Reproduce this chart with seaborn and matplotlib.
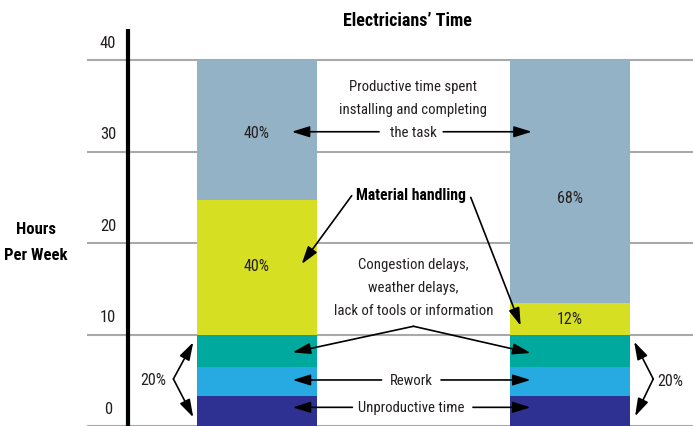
import matplotlib
matplotlib.use("Agg")
import matplotlib.pyplot as plt
import seaborn as sns
import pandas as pd
import numpy as np

# ---- data (hours per week) ----
categories = ["Current", "Improved"]
segments = ["Unproductive time", "Rework", "Congestion delays", "Material handling", "Productive time"]
unproductive = [3.3, 3.3]
rework = [3.1, 3.1]
congestion = [3.6, 3.6]
material = [14.7, 3.4]
productive = [15.3, 26.6]
seg_colors = ["#2e3192", "#27aae1", "#00a99d", "#d7df23", "#94b2c5"]
bar_labels_productive = ["40%", "68%"]
bar_labels_material = ["40%", "12%"]
yticks = [0, 10, 20, 30, 40]
title = "Electricians\u2019 Time"

sns.set_theme(style="white")
plt.rcParams["font.family"] = ["Roboto Condensed", "DejaVu Sans"]
plt.rcParams["font.stretch"] = "condensed"
TXT = "#231f20"

fig = plt.figure(figsize=(6.93, 4.27), dpi=100)
ax = fig.add_axes([87 / 693, 0, 606 / 693, 397 / 427])

values = np.array([unproductive, rework, congestion, material, productive])
cum = values.cumsum(axis=0)

# draw stacked bars from the top layer down
for i in range(len(segments) - 1, -1, -1):
    df = pd.DataFrame({"cat": categories, "hours": cum[i]})
    sns.barplot(data=df, x="cat", y="hours", order=categories, color=seg_colors[i],
                saturation=1, width=0.383, errorbar=None, linewidth=0, ax=ax, zorder=2)

ax.set_xlim(-0.543, 1.393)
ax.set_ylim(0, 43.39)
ax.set_yticks(yticks)
ax.yaxis.grid(True, color="#a7a9ac", lw=1.5)
ax.xaxis.grid(False)
ax.set_axisbelow(True)
for s in ax.spines.values():
    s.set_visible(False)
ax.tick_params(left=False, labelleft=False, bottom=False, labelbottom=False)
ax.set_xlabel("")
ax.set_ylabel("")

# black vertical axis line
ax.axvline(-0.412, color="black", lw=3, zorder=3)

# y tick labels above gridlines
for v in yticks:
    ax.text(-0.476, v + 1.94, str(v), ha="center", va="center", fontsize=12, color=TXT)

# title and y label
fig.text(407.5 / 693, 1 - 20.7 / 427, title, ha="center", va="center",
         fontsize=13, fontweight="bold", color="black")
fig.text(36 / 693, 1 - 229 / 427, "Hours", ha="center", va="center",
         fontsize=12, fontweight="bold", color="black")
fig.text(36 / 693, 1 - 256 / 427, "Per Week", ha="center", va="center",
         fontsize=12, fontweight="bold", color="black")

# percentage labels inside bars
ax.text(0, 32.1, bar_labels_productive[0], ha="center", va="center", fontsize=11.5, color=TXT)
ax.text(1, 25.0, bar_labels_productive[1], ha="center", va="center", fontsize=11.5, color=TXT)
ax.text(0, 17.5, bar_labels_material[0], ha="center", va="center", fontsize=11.5, color=TXT)
ax.text(1, 11.8, bar_labels_material[1], ha="center", va="center", fontsize=11.5, color=TXT)

FS = 10.6
ap = dict(arrowstyle="-|>,head_length=0.9,head_width=0.28", color="black", lw=1.2,
          mutation_scale=12, shrinkA=0, shrinkB=0)


def arrow(start, tip):
    ax.annotate("", xy=tip, xytext=start, arrowprops=ap, zorder=4)


# productive time
for y, line in zip([37.2, 34.6, 32.16], ["Productive time spent", "installing and completing", "the task"]):
    ax.text(0.5, y, line, ha="center", va="center", fontsize=FS, color=TXT)
arrow((0.39, 32.16), (0.111, 32.16))
arrow((0.595, 32.16), (0.878, 32.16))

# material handling
ax.text(0.491, 25.28, "Material handling", ha="center", va="center", fontsize=11.3,
        fontweight="bold", color="black")
arrow((0.3026, 25.17), (0.1428, 17.7))
arrow((0.683, 24.99), (0.8425, 10.96))

# congestion
for y, line in zip([17.7, 15.16, 12.68], ["Congestion delays,", "weather delays,", "lack of tools or information"]):
    ax.text(0.5, y, line, ha="center", va="center", fontsize=FS, color=TXT)
arrow((0.5, 10.9), (0.114, 8.05))
arrow((0.5, 10.9), (0.874, 7.98))

# rework
ax.text(0.494, 5.03, "Rework", ha="center", va="center", fontsize=FS, color=TXT)
arrow((0.398, 5.03), (0.114, 5.03))
arrow((0.588, 5.03), (0.874, 5.03))

# unproductive
ax.text(0.493, 2.04, "Unproductive time", ha="center", va="center", fontsize=FS, color=TXT)
arrow((0.305, 2.04), (0.114, 2.04))
arrow((0.69, 2.04), (0.874, 2.04))

# 20% brackets
ax.text(-0.331, 5.03, "20%", ha="center", va="center", fontsize=11.5, color=TXT)
arrow((-0.267, 5.14), (-0.2035, 9.15))
arrow((-0.267, 5.14), (-0.2035, 0.95))
ax.text(1.319, 4.95, "20%", ha="center", va="center", fontsize=11.5, color=TXT)
arrow((1.266, 5.14), (1.205, 9.21))
arrow((1.266, 5.14), (1.208, 1.06))

fig.savefig("out.png", dpi=100)
